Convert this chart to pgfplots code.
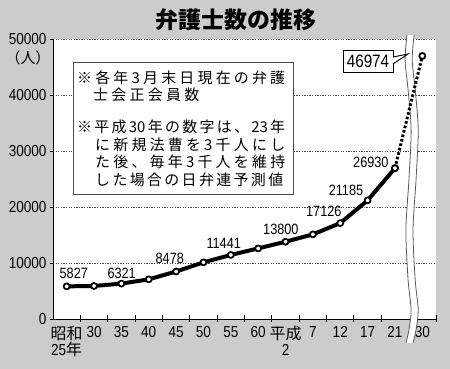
\documentclass[border=0pt]{standalone}
\usepackage{fontspec}
\usepackage{pgfplots}
\pgfplotsset{compat=1.18}
\setmainfont{Liberation Sans}[FakeStretch=0.85]
\newfontfamily\jp{Noto Sans CJK JP}
\definecolor{bg}{gray}{0.80}
\begin{document}
\begin{tikzpicture}
\fill[bg] (0bp,0bp) rectangle (450bp,369bp);
\begin{axis}[
  at={(53bp,50bp)}, anchor=south west, scale only axis,
  width=383bp, height=280bp,
  xmin=-0.5, xmax=13.5, ymin=0, ymax=50000,
  clip=false,
  axis background/.style={fill=white},
  axis x line*=bottom, axis y line*=left,
  axis line style={-, black, line width=1pt},
  scaled y ticks=false,
  major tick length=0pt,
  xtick={0,1,2,3,4,5,6,7,8,9,10,11,12,13},
  xticklabels={{{\jp 昭和}\\25{\jp 年}},30,35,40,45,50,55,60,{{\jp 平成}\\2},7,12,17,21,30},
  xticklabel style={font=\fontsize{16}{16}\selectfont, align=center, yshift=-4bp},
  ytick={0,10000,20000,30000,40000,50000},
  yticklabels={0,10000,20000,30000,40000,50000},
  yticklabel style={font=\fontsize{16}{16}\selectfont, xshift=-3bp},
  ymajorgrids,
  major grid style={gray!55!black, line width=0.7pt, dash pattern=on 1.3pt off 1.3pt},
]
\fill[white] plot[smooth] coordinates {(12.44,50714) (12.37,46250) (12.48,40893) (12.59,33750) (12.51,24821) (12.40,15893) (12.48,6964) (12.59,1607) (12.51,-1964) (12.40,-4286)}
  -- plot[smooth] coordinates {(12.66,-4286) (12.77,-1964) (12.85,1607) (12.74,6964) (12.66,15893) (12.77,24821) (12.85,33750) (12.74,40893) (12.63,46250) (12.70,50714)} -- cycle;
\draw[gray!70!black, line width=0.8pt] plot[smooth] coordinates {(12.44,50714) (12.37,46250) (12.48,40893) (12.59,33750) (12.51,24821) (12.40,15893) (12.48,6964) (12.59,1607) (12.51,-1964) (12.40,-4286)};
\draw[gray!70!black, line width=0.8pt] plot[smooth] coordinates {(12.66,-4286) (12.77,-1964) (12.85,1607) (12.74,6964) (12.66,15893) (12.77,24821) (12.85,33750) (12.74,40893) (12.63,46250) (12.70,50714)};
\addplot[black, line width=3pt, dash pattern=on 2.6pt off 2pt, mark=*, mark size=3pt,
  mark options={solid, fill=white, draw=black, line width=1.8pt}]
  coordinates {(12,26930) (13,46974)};
\addplot[black, line width=4pt, line join=round, mark=*, mark size=3pt,
  mark options={fill=white, draw=black, line width=1.8pt}]
  coordinates {(0,5827) (1,5899) (2,6321) (3,7082) (4,8478) (5,10115) (6,11441)
   (7,12604) (8,13800) (9,15108) (10,17126) (11,21185) (12,26930)};
\begin{scope}[every node/.style={font=\fontsize{15}{15}\selectfont, inner sep=0pt}]
\node at (axis cs:0.26,8214) {5827};
\node at (axis cs:2.01,8214) {6321};
\node at (axis cs:3.77,10893) {8478};
\node at (axis cs:5.74,13571) {11441};
\node at (axis cs:7.83,16071) {13800};
\node at (axis cs:9.40,19286) {17126};
\node at (axis cs:10.21,23036) {21185};
\node at (axis cs:11.12,28036) {26930};
\end{scope}
\end{axis}
\begin{scope}[x=1bp,y=1bp]
% axis tick marks
\foreach \n in {1,2,3,4,5,6,7,8,9,10,11,12,14}{
  \draw[black, line width=1pt] ({53+27.357*\n},46.5) -- ++(0,7);
}
\foreach \k in {0,1,2,3,4,5}{
  \draw[black, line width=0.9pt] (50,{50+56*\k}) -- (53,{50+56*\k});
}
% title and unit
\node[font=\jp\bfseries\fontsize{23}{26}\selectfont] at (236,349) {弁護士数の推移};
\node[font=\jp\fontsize{15}{16}\selectfont, inner sep=0pt] at (28,311) {（人）};
% note box
\draw[gray!60!black, line width=0.8pt, fill=white] (73,307) rectangle (293,175);
\begin{scope}[every node/.style={anchor=west, inner sep=0pt, font=\jp\fontsize{15}{15}\selectfont}]
\node at (77,291) {\hbox to 208bp{※\hfill 各\hfill 年\hfill 3\hfill 月\hfill 末\hfill 日\hfill 現\hfill 在\hfill の\hfill 弁\hfill 護}};
\node at (93,274) {\hbox to 106bp{士\hfill 会\hfill 正\hfill 会\hfill 員\hfill 数}};
\node at (77,242) {\hbox to 208bp{※\hfill 平\hfill 成\hfill 30\hfill 年\hfill の\hfill 数\hfill 字\hfill は\hfill 、\hfill 23\hfill 年}};
\node at (95,224) {\hbox to 190bp{に\hfill 新\hfill 規\hfill 法\hfill 曹\hfill を\hfill 3\hfill 千\hfill 人\hfill に\hfill し}};
\node at (95,207) {\hbox to 190bp{た\hfill 後\hfill 、\hfill 毎\hfill 年\hfill 3\hfill 千\hfill 人\hfill を\hfill 維\hfill 持}};
\node at (95,189) {\hbox to 188bp{し\hfill た\hfill 場\hfill 合\hfill の\hfill 日\hfill 弁\hfill 連\hfill 予\hfill 測\hfill 値}};
\end{scope}
% callout
\draw[black, line width=0.9pt, fill=white] (343,319) rectangle (393,297);
\fill[white] (392.4,311.5) -- (408,315) -- (392.4,305.5) -- cycle;
\draw[black, line width=0.9pt] (393,312) -- (408,315) -- (393,305);
\node[font=\fontsize{18}{18}\selectfont, inner sep=0pt] at (368,308) {46974};
\end{scope}
\pgfresetboundingbox
\path (0bp,0bp) rectangle (450bp,369bp);
\end{tikzpicture}
\end{document}
